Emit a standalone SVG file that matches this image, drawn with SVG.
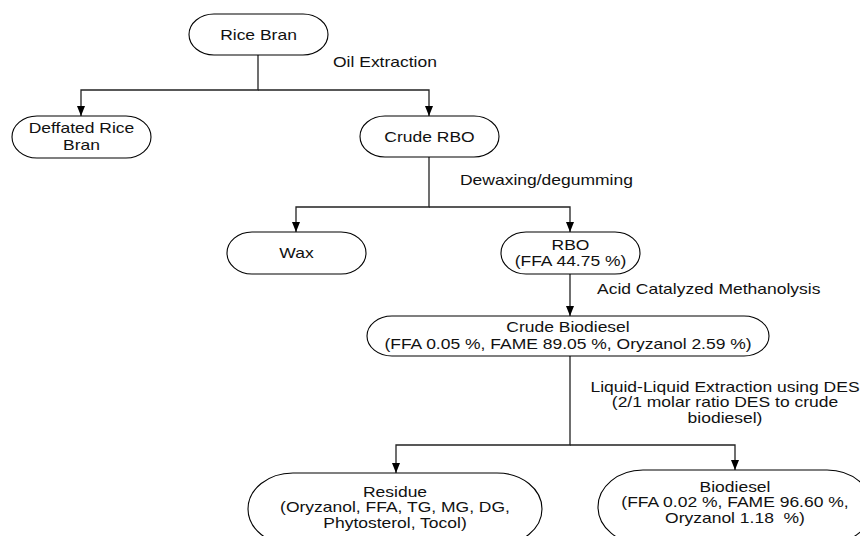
<svg xmlns="http://www.w3.org/2000/svg" width="860" height="536" viewBox="0 0 860 536">
<style>
.box{fill:#fff;stroke:#000;stroke-width:1.1}
.t{font-family:"Liberation Sans",Arial,sans-serif;font-size:14px;fill:#111}
.c{text-anchor:middle}
.ln{fill:none;stroke:#222;stroke-width:1.3}
</style>
<defs>
<marker id="ah" viewBox="0 0 10 8" refX="10" refY="4" markerWidth="10" markerHeight="8" markerUnits="userSpaceOnUse" orient="auto">
<path d="M0,0 L10,4 L0,8 Z" fill="#000"/>
</marker>
</defs>
<rect width="860" height="536" fill="#fff"/>
<g id="connectors">
<path class="ln" d="M258,55 V90 H81 V116" marker-end="url(#ah)"/>
<path class="ln" d="M258,90 H429 V116" marker-end="url(#ah)"/>
<path class="ln" d="M429,157 V207 H296 V232" marker-end="url(#ah)"/>
<path class="ln" d="M429,207 H570 V232" marker-end="url(#ah)"/>
<path class="ln" d="M570,274 V316" marker-end="url(#ah)"/>
<path class="ln" d="M570,356 V445 H396 V473" marker-end="url(#ah)"/>
<path class="ln" d="M570,445 H735 V470" marker-end="url(#ah)"/>
</g>
<g id="labels">
<text class="t" transform="translate(333,67) scale(1.25,1)">Oil Extraction</text>
<text class="t" transform="translate(460,185) scale(1.25,1)">Dewaxing/degumming</text>
<text class="t" transform="translate(597,294) scale(1.25,1)">Acid Catalyzed Methanolysis</text>
<text class="t c" transform="translate(725,392) scale(1.25,1)"><tspan x="0">Liquid-Liquid Extraction using DES</tspan><tspan x="0" dy="15.5">(2/1 molar ratio DES to crude</tspan><tspan x="0" dy="15.5">biodiesel)</tspan></text>
</g>
<g id="rice-bran">
<rect class="box" x="189" y="14" width="139" height="41" rx="25" ry="20.5"/>
<text class="t c" transform="translate(258.5,40) scale(1.25,1)">Rice Bran</text>
</g>
<g id="deffated-rice-bran">
<rect class="box" x="12" y="116" width="139" height="42" rx="25" ry="21"/>
<text class="t c" transform="translate(81.5,133) scale(1.25,1)"><tspan x="0">Deffated Rice</tspan><tspan x="0" dy="17">Bran</tspan></text>
</g>
<g id="crude-rbo">
<rect class="box" x="360" y="116" width="139" height="41" rx="25" ry="20.5"/>
<text class="t c" transform="translate(429.5,141.5) scale(1.25,1)">Crude RBO</text>
</g>
<g id="wax">
<rect class="box" x="227" y="232" width="139" height="42" rx="25" ry="21"/>
<text class="t c" transform="translate(296.5,258) scale(1.25,1)">Wax</text>
</g>
<g id="rbo">
<rect class="box" x="501" y="232" width="139" height="42" rx="25" ry="21"/>
<text class="t c" transform="translate(570.5,249.5) scale(1.25,1)"><tspan x="0">RBO</tspan><tspan x="0" dy="17">(FFA 44.75 %)</tspan></text>
</g>
<g id="crude-biodiesel">
<rect class="box" x="367" y="316" width="402" height="40" rx="25" ry="20"/>
<text class="t c" transform="translate(568,332) scale(1.25,1)"><tspan x="0">Crude Biodiesel</tspan><tspan x="0" dy="17">(FFA 0.05 %, FAME 89.05 %, Oryzanol 2.59 %)</tspan></text>
</g>
<g id="residue">
<rect class="box" x="248" y="473" width="294" height="72" rx="45" ry="36"/>
<text class="t c" transform="translate(395,497) scale(1.25,1)"><tspan x="0">Residue</tspan><tspan x="0" dy="15.5">(Oryzanol, FFA, TG, MG, DG,</tspan><tspan x="0" dy="15.5">Phytosterol, Tocol)</tspan></text>
</g>
<g id="biodiesel">
<rect class="box" x="598" y="470" width="274" height="74" rx="45" ry="37"/>
<text class="t c" transform="translate(735,492) scale(1.25,1)"><tspan x="0">Biodiesel</tspan><tspan x="0" dy="15.5">(FFA 0.02 %, FAME 96.60 %,</tspan><tspan x="0" dy="15.5" style="white-space:pre">Oryzanol 1.18  %)</tspan></text>
</g>
</svg>
